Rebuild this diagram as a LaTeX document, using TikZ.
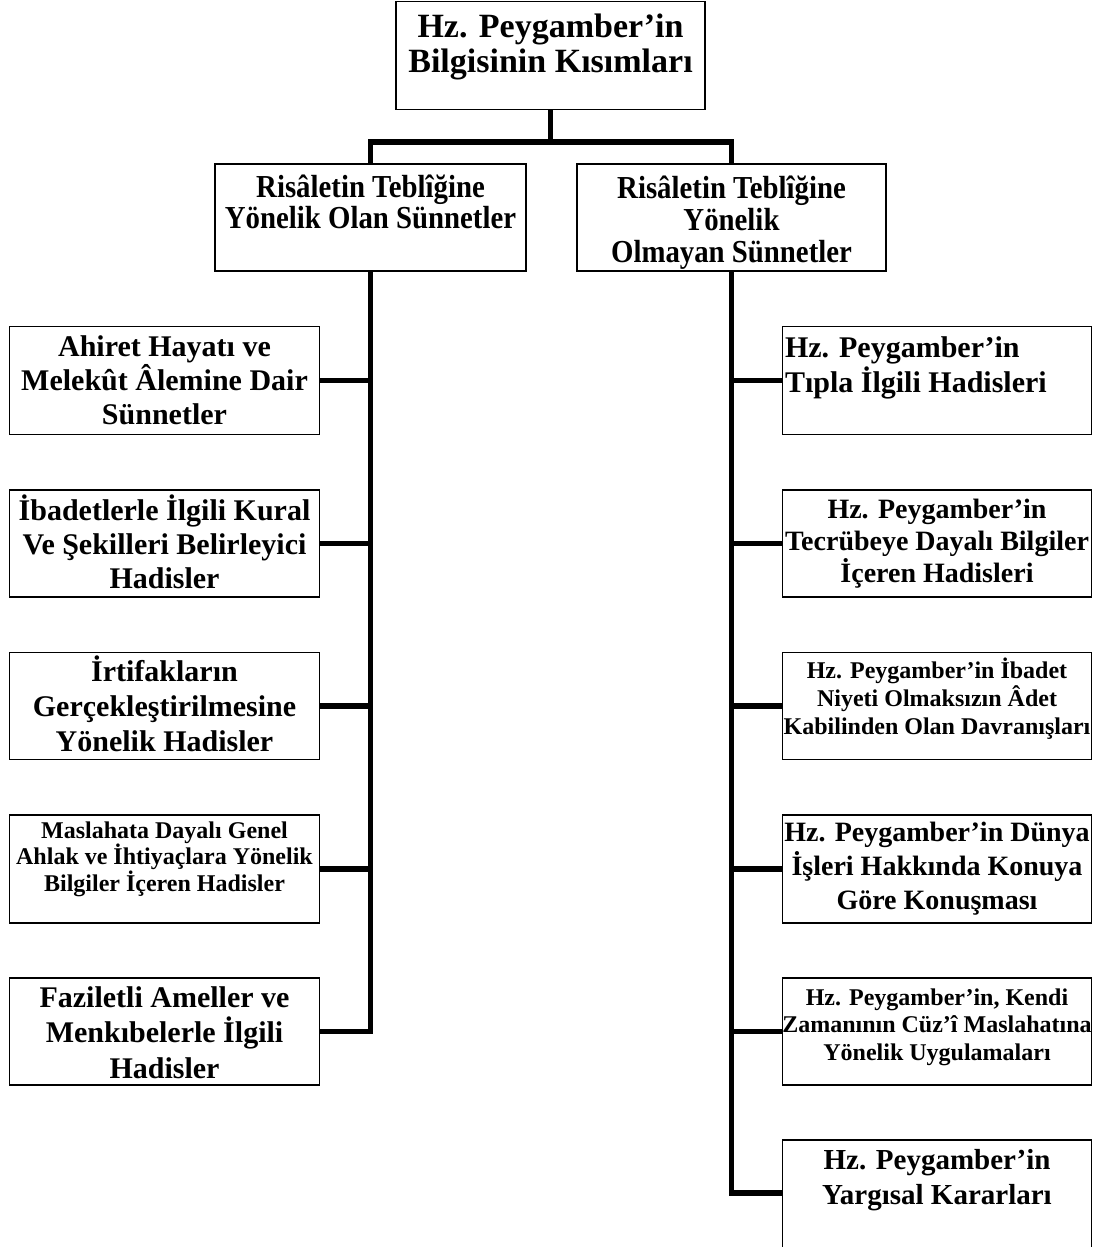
\documentclass[tikz,border=0pt]{standalone}
\usepackage{fontspec}
\setmainfont{Liberation Serif}
\newfontfamily\condfont[FakeStretch=0.9]{Liberation Serif}
\newcommand\fs[2]{\fontsize{#1}{#2}\selectfont\bfseries}
\begin{document}
\begin{tikzpicture}[x=1pt,y=-1pt,
  box/.style={draw, line width=1.5pt, inner sep=0pt, outer sep=0pt, anchor=north west},
  lbl/.style={inner sep=0pt, outer sep=0pt, align=center, anchor=base},
  conn/.style={line width=5.5pt}]
\useasboundingbox (0,0) rectangle (1097,1247);

% root (text placed by the baseline of its last line)
\node[box, minimum width=309pt, minimum height=108pt] (T) at (396,1.5) {};
\node[lbl, font=\fs{34}{35}] (Tt) at (550.5,72) {Hz. Peygamber’in\\Bilgisinin Kısımları};

% second level
\node[box, minimum width=311pt, minimum height=107pt] (A) at (215,164) {};
\node[lbl, font=\condfont\fs{32}{30.5}] (At) at (370.5,228) {Risâletin Teblîğine\\Yönelik Olan Sünnetler};
\node[box, minimum width=309pt, minimum height=107pt] (B) at (577,164) {};
\node[lbl, font=\condfont\fs{32}{32}] (Bt) at (731.5,262) {Risâletin Teblîğine\\Yönelik\\Olmayan Sünnetler};

% left branch
\node[box, minimum width=310pt, minimum height=108pt] (L1) at (9.5,326.5) {};
\node[lbl, font=\fs{30}{34}] (L1t) at (164.5,424) {Ahiret Hayatı ve\\Melekût Âlemine Dair\\Sünnetler};
\node[box, minimum width=310pt, minimum height=107pt] (L2) at (9.5,490) {};
\node[lbl, font=\fs{30}{34}] (L2t) at (164.5,588) {İbadetlerle İlgili Kural\\Ve Şekilleri Belirleyici\\Hadisler};
\node[box, minimum width=310pt, minimum height=107pt] (L3) at (9.5,652.5) {};
\node[lbl, font=\fs{30}{35}] (L3t) at (164.5,751) {İrtifakların\\Gerçekleştirilmesine\\Yönelik Hadisler};
\node[box, minimum width=310pt, minimum height=108pt] (L4) at (9.5,815) {};
\node[lbl, font=\fs{24}{26.5}] (L4t) at (164.5,891) {Maslahata Dayalı Genel\\Ahlak ve İhtiyaçlara Yönelik\\Bilgiler İçeren Hadisler};
\node[box, minimum width=310pt, minimum height=107pt] (L5) at (9.5,978) {};
\node[lbl, font=\fs{30}{35.5}] (L5t) at (164.5,1078) {Faziletli Ameller ve\\Menkıbelerle İlgili\\Hadisler};

% right branch
\node[box, minimum width=309pt, minimum height=108pt] (R1) at (782.5,326.5) {};
\node[lbl, align=left, anchor=base west, font=\fs{30}{35}] (R1t) at (785,392) {Hz. Peygamber’in\\Tıpla İlgili Hadisleri};
\node[box, minimum width=309pt, minimum height=107pt] (R2) at (782.5,490) {};
\node[lbl, font=\fs{28}{32}] (R2t) at (937,582) {Hz. Peygamber’in\\Tecrübeye Dayalı Bilgiler\\İçeren Hadisleri};
\node[box, minimum width=309pt, minimum height=107pt] (R3) at (782.5,652.5) {};
\node[lbl, font=\fs{24}{28}] (R3t) at (937,734) {Hz. Peygamber’in İbadet\\Niyeti Olmaksızın Âdet\\Kabilinden Olan Davranışları};
\node[box, minimum width=309pt, minimum height=108pt] (R4) at (782.5,815) {};
\node[lbl, font=\fs{28}{34}] (R4t) at (937,909) {Hz. Peygamber’in Dünya\\İşleri Hakkında Konuya\\Göre Konuşması};
\node[box, minimum width=309pt, minimum height=107pt] (R5) at (782.5,978) {};
\node[lbl, font=\fs{24}{27.5}] (R5t) at (937,1060) {Hz. Peygamber’in, Kendi\\Zamanının Cüz’î Maslahatına\\Yönelik Uygulamaları};
\node[box, minimum width=309pt, minimum height=112pt] (R6) at (782.5,1140) {};
\node[lbl, font=\fs{29}{35}] (R6t) at (937,1204) {Hz. Peygamber’in\\Yargısal Kararları};

% connectors
\coordinate (bar) at (550.5,142);
\draw[conn] (T.south) -- (bar);
\draw[conn] (A.north) |- (bar) -| (B.north);
\foreach \n in {L1,L2,L3,L4,L5}
  \draw[conn] (A.south) |- (\n.east);
\foreach \n in {R1,R2,R3,R4,R5}
  \draw[conn] (B.south) |- (\n.west);
\draw[conn] (B.south) |- ([yshift=3pt]R6.west);
\end{tikzpicture}
\end{document}
